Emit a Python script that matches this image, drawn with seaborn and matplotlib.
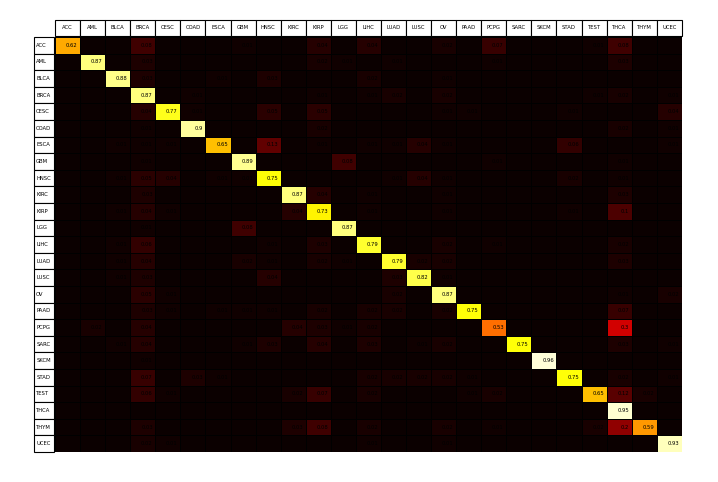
import numpy as np
import pandas as pd
import matplotlib
matplotlib.use("Agg")
import matplotlib.pyplot as plt
from matplotlib.patches import Rectangle
import seaborn as sns

# classes of the confusion matrix
classes = ["ACC", "AML", "BLCA", "BRCA", "CESC", "COAD", "ESCA", "GBM", "HNSC",
           "KIRC", "KIRP", "LGG", "LIHC", "LUAD", "LUSC", "OV", "PAAD", "PCPG",
           "SARC", "SKCM", "STAD", "TEST", "THCA", "THYM", "UCEC"]

# diagonal (recall per class)
diag = [0.62, 0.87, 0.88, 0.87, 0.77, 0.9, 0.65, 0.89, 0.75, 0.87, 0.73, 0.87,
        0.79, 0.79, 0.82, 0.87, 0.75, 0.53, 0.75, 0.96, 0.75, 0.65, 0.95, 0.59, 0.93]

# off diagonal entries (true class, predicted class, value)
off_true = ["ACC"] * 8 + ["AML"] * 6 + ["BLCA"] * 5 + ["BRCA"] * 8 + ["CESC"] * 8 \
    + ["COAD"] * 4 + ["ESCA"] * 11 + ["GBM"] * 4 + ["HNSC"] * 10 + ["KIRC"] * 5 \
    + ["KIRP"] * 8 + ["LGG"] * 2 + ["LIHC"] * 7 + ["LUAD"] * 9 + ["LUSC"] * 5 \
    + ["OV"] * 5 + ["PAAD"] * 10 + ["PCPG"] * 7 + ["SARC"] * 10 + ["SKCM"] * 1 \
    + ["STAD"] * 10 + ["TEST"] * 9 + ["THYM"] * 8 + ["UCEC"] * 4
off_pred = ["BRCA", "GBM", "KIRP", "LIHC", "OV", "PCPG", "TEST", "THCA",
            "BRCA", "KIRP", "LGG", "LUAD", "THCA", "PCPG",
            "BRCA", "HNSC", "LIHC", "OV", "ESCA",
            "COAD", "KIRP", "LIHC", "LUAD", "OV", "THCA", "TEST", "UCEC",
            "BRCA", "COAD", "HNSC", "KIRP", "OV", "PAAD", "STAD", "UCEC",
            "BRCA", "KIRP", "THCA", "UCEC",
            "BLCA", "BRCA", "CESC", "HNSC", "KIRP", "LIHC", "LUAD", "LUSC", "OV", "STAD", "UCEC",
            "BRCA", "LGG", "PCPG", "THCA",
            "BLCA", "BRCA", "CESC", "ESCA", "GBM", "LUAD", "LUSC", "OV", "STAD", "THCA",
            "BRCA", "KIRP", "LIHC", "THCA", "OV",
            "BLCA", "BRCA", "CESC", "KIRC", "LIHC", "OV", "THCA", "STAD",
            "BRCA", "GBM",
            "BRCA", "BLCA", "KIRP", "HNSC", "OV", "PCPG", "THCA",
            "BLCA", "BRCA", "GBM", "HNSC", "KIRP", "LGG", "LUSC", "OV", "THCA",
            "BRCA", "HNSC", "LUAD", "OV", "BLCA",
            "BRCA", "LUAD", "CESC", "UCEC", "THCA",
            "BRCA", "CESC", "GBM", "HNSC", "KIRP", "LIHC", "LUAD", "OV", "THCA", "ESCA",
            "AML", "BRCA", "KIRC", "KIRP", "LGG", "LIHC", "THCA",
            "BLCA", "BRCA", "GBM", "HNSC", "KIRP", "LIHC", "LUSC", "OV", "THCA", "UCEC",
            "BRCA",
            "BRCA", "COAD", "ESCA", "LIHC", "LUAD", "LUSC", "OV", "PAAD", "THCA", "UCEC",
            "BRCA", "CESC", "KIRC", "KIRP", "LIHC", "PAAD", "PCPG", "THCA", "THYM",
            "BRCA", "KIRC", "KIRP", "LIHC", "OV", "TEST", "THCA", "PCPG",
            "BRCA", "CESC", "LIHC", "OV"]
off_vals = [0.08, 0.01, 0.04, 0.04, 0.02, 0.07, 0.01, 0.08,
            0.03, 0.02, 0.01, 0.01, 0.03, 0.01,
            0.03, 0.03, 0.02, 0.01, 0.01,
            0.01, 0.01, 0.01, 0.02, 0.02, 0.02, 0.01, 0.01,
            0.04, 0.01, 0.05, 0.05, 0.01, 0.01, 0.01, 0.04,
            0.01, 0.02, 0.02, 0.01,
            0.01, 0.01, 0.01, 0.13, 0.01, 0.01, 0.01, 0.04, 0.01, 0.06, 0.01,
            0.01, 0.08, 0.01, 0.01,
            0.01, 0.05, 0.04, 0.01, 0.01, 0.01, 0.04, 0.01, 0.02, 0.01,
            0.03, 0.04, 0.01, 0.03, 0.01,
            0.01, 0.04, 0.01, 0.04, 0.01, 0.01, 0.1, 0.01,
            0.01, 0.08,
            0.06, 0.01, 0.03, 0.01, 0.02, 0.01, 0.02,
            0.01, 0.04, 0.02, 0.01, 0.02, 0.01, 0.02, 0.02, 0.03,
            0.03, 0.04, 0.03, 0.01, 0.01,
            0.05, 0.02, 0.01, 0.02, 0.01,
            0.03, 0.01, 0.01, 0.01, 0.02, 0.02, 0.02, 0.02, 0.07, 0.01,
            0.02, 0.04, 0.04, 0.03, 0.01, 0.02, 0.3,
            0.01, 0.04, 0.01, 0.03, 0.04, 0.03, 0.01, 0.02, 0.03, 0.01,
            0.01,
            0.07, 0.03, 0.01, 0.02, 0.02, 0.02, 0.02, 0.01, 0.02, 0.01,
            0.06, 0.01, 0.02, 0.07, 0.02, 0.01, 0.02, 0.12, 0.02,
            0.03, 0.03, 0.08, 0.02, 0.02, 0.02, 0.2, 0.01,
            0.02, 0.01, 0.01, 0.01]

n = len(classes)
idx = {c: i for i, c in enumerate(classes)}
cm = np.zeros((n, n))
for i, v in enumerate(diag):
    cm[i, i] = v
for t, p, v in zip(off_true, off_pred, off_vals):
    cm[idx[t], idx[p]] = v
df = pd.DataFrame(cm, index=classes, columns=classes)

fig = plt.figure(figsize=(7.18, 4.82), dpi=100)
ax = fig.add_axes([0.0766, 0.0622, 0.873, 0.861])
sns.heatmap(df, cmap="hot", vmin=0, vmax=1, cbar=False, linewidths=0.6,
            linecolor="black", xticklabels=False, yticklabels=False, ax=ax)

fs = 3.8
for i in range(n):
    for j in range(n):
        v = cm[i, j]
        if v > 0:
            ax.text(j + 0.9, i + 0.5, str(round(v, 2)), ha="right", va="center",
                    fontsize=fs, color="black")

# header boxes
for j, c in enumerate(classes):
    ax.add_patch(Rectangle((j, -1.02), 1, 0.95, facecolor="white", edgecolor="black",
                           linewidth=0.8, clip_on=False))
    ax.text(j + 0.5, -0.55, c, ha="center", va="center", fontsize=fs)
for i, c in enumerate(classes):
    ax.add_patch(Rectangle((-0.82, i), 0.8, 1, facecolor="white", edgecolor="black",
                           linewidth=0.8, clip_on=False))
    ax.text(-0.75, i + 0.5, c, ha="left", va="center", fontsize=fs)

ax.set_xlabel("")
ax.set_ylabel("")
fig.savefig("out.png", dpi=100)
